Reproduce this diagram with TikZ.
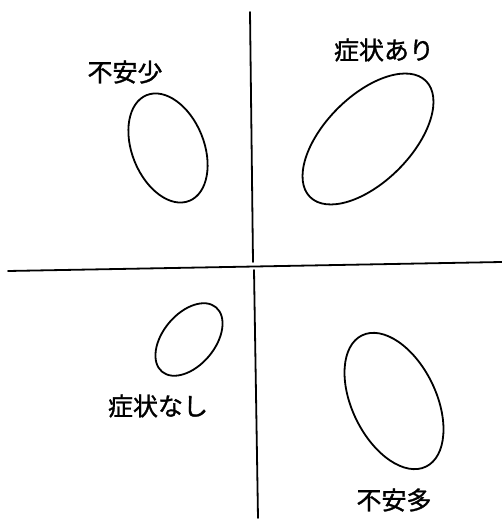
\documentclass[tikz,border=0pt]{standalone}
\usepackage{fontspec}
\newfontfamily\jpfont[FakeBold=1.2]{Noto Sans CJK JP}
\begin{document}
\begin{tikzpicture}[x=1pt,y=1pt,
  axisline/.style={line width=1.8pt,line cap=round},
  blob/.style={line width=1.8pt},
  lbl/.style={font=\jpfont\fontsize{25}{25}\selectfont,inner sep=0pt}]
\useasboundingbox (0,0) rectangle (502,527);
% axes
\coordinate (vtop) at (250,515);
\coordinate (vmid1) at (253,265);
\coordinate (vmid2) at (254,257);
\coordinate (vbot) at (258,9);
\coordinate (hleft) at (8,256);
\coordinate (hright) at (502,265);
\draw[axisline] (vtop) -- (vmid1);
\draw[axisline] (vmid2) -- (vbot);
\draw[axisline] (hleft) -- (hright);
% ellipses
\draw[blob] (168,379) ellipse [x radius=57, y radius=36, rotate=112];
\draw[blob] (368,388) ellipse [x radius=82, y radius=43, rotate=45];
\draw[blob] (189,187.5) ellipse [x radius=42, y radius=26, rotate=50];
\draw[blob] (394,126) ellipse [x radius=73, y radius=42, rotate=116];
% labels
\node[lbl] (tl) at (125,455) {不安少};
\node[lbl] (tr) at (384,477) {症状あり};
\node[lbl] (bl) at (158,121) {症状なし};
\node[lbl] (br) at (394,27) {不安多};
\end{tikzpicture}
\end{document}
